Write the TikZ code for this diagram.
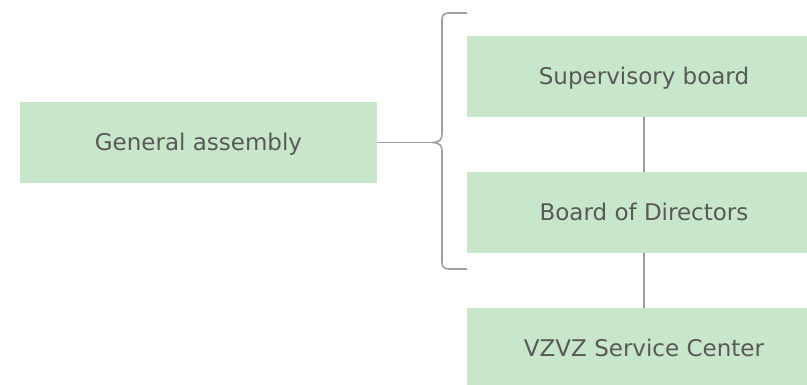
\documentclass[tikz,border=0pt]{standalone}
\usepackage{fontspec}
\setmainfont{DejaVu Sans}
\usepackage{tikz}

\definecolor{boxgreen}{HTML}{C8E6C9}
\definecolor{boxtext}{HTML}{595959}
\definecolor{linegray}{HTML}{9E9E9E}

\begin{document}
\begin{tikzpicture}[x=1pt,y=-1pt]
                \useasboundingbox (0,0) rectangle (807,384);
                \clip (0,0) rectangle (807,384);
                \begin{scope}[every node/.style={fill=boxgreen, text=boxtext, inner sep=0, minimum height=81pt, text height=16.8pt, text depth=0pt, font=\fontsize{23}{27}\selectfont}]
                        \node[minimum width=357pt] (GA) at (198.5,142.5) {General assembly};
                        \node[minimum width=354pt] (SB) at (644,76.5) {Supervisory board};
                        \node[minimum width=354pt] (BD) at (644,212.5) {Board of Directors};
                        \node[minimum width=354pt] (VZ) at (644,348.5) {VZVZ Service Center};
                \end{scope}
                \begin{scope}[every path/.style={draw=linegray, line width=1.6pt}]
                        % brace
                        \coordinate (TIP) at (432,142.5);
                        \draw (467,13) -- (449,13) .. controls (444,13) and (442,15) .. (442,20)
                                -- (442,134) .. controls (442,139) and (440,142.5) .. (TIP)
                                .. controls (440,142.5) and (442,146) .. (442,151)
                                -- (442,262) .. controls (442,267) and (444,269) .. (449,269) -- (467,269);
                        \path (GA) edge (TIP);
                        \path (SB) edge (BD);
                        \path (BD) edge (VZ);
                \end{scope}
\end{tikzpicture}
\end{document}
